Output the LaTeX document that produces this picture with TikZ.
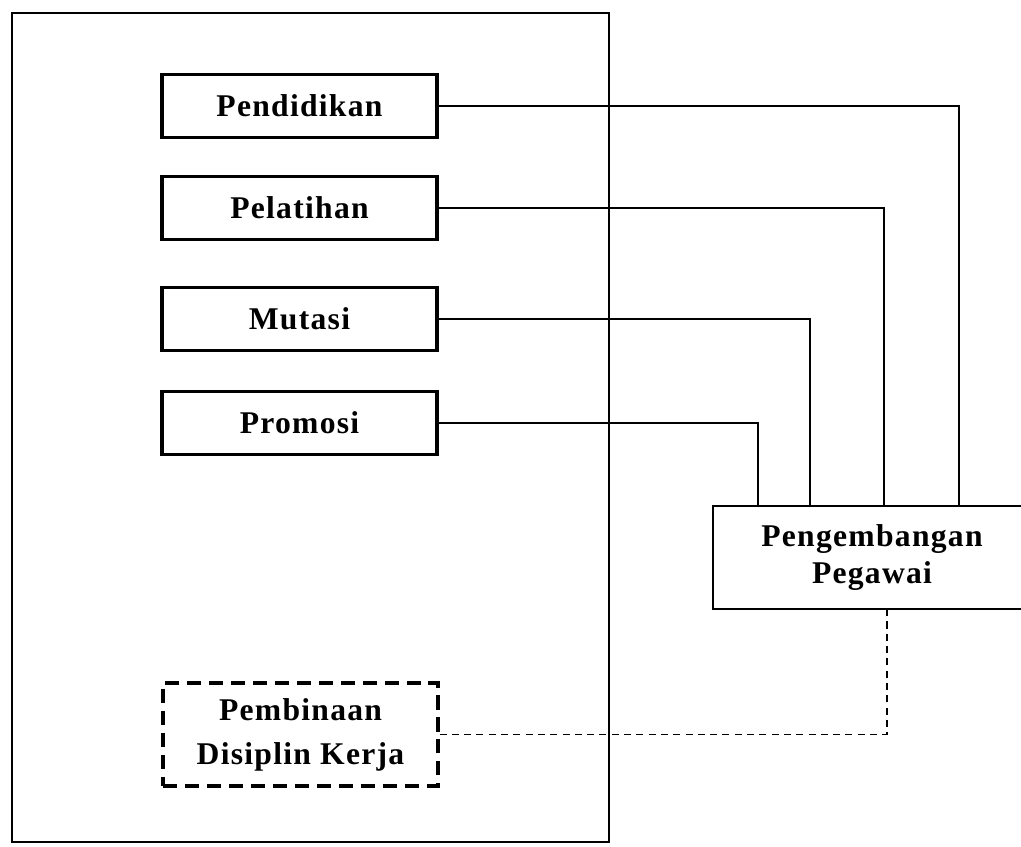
\documentclass[tikz,border=0pt]{standalone}
\usepackage{fontspec}
\setmainfont[LetterSpace=4]{Liberation Serif}
\begin{document}
\begin{tikzpicture}
  [
    x=0.02cm, y=-0.02cm,
    every node/.style={
      font=\bfseries\fontsize{18}{21.5}\selectfont
    },
    box/.style={
      draw,
      line width=1.8pt,
      minimum width=5.5cm,
      minimum height=1.26cm,
      inner sep=0pt
    },
    dbox/.style={
      box,
      dash pattern=on 8pt off 4.5pt,
      minimum height=2.06cm,
      align=center,
      font=\bfseries\fontsize{18}{25}\selectfont
    },
    target/.style={
      draw,
      line width=1.6pt,
      minimum width=6.36cm,
      minimum height=2.06cm,
      align=center,
      inner sep=0pt
    },
    link/.style={
      line width=1pt
    },
    dlink/.style={
      line width=1pt,
      dash pattern=on 4pt off 3pt
    }
  ]

  \clip (0,0) rectangle (1021,847);
  \draw [line width=1.4pt] (12,13) rectangle (609,842);

  \node [box] (pend) at (299.5,106) {Pendidikan};
  \node [box] (pela) at (299.5,208) {Pelatihan};
  \node [box] (muta) at (299.5,319) {Mutasi};
  \node [box] (prom) at (299.5,423) {Promosi};
  \node [dbox] (bina) at (300.5,734.5) {Pembinaan\\Disiplin Kerja};

  \node [target] (peng) at (872,557.5) {Pengembangan\\Pegawai};

  \foreach \n/\x in {pend/959,pela/884,muta/810,prom/758} {
      \coordinate (c\n) at (\x,0);
      \draw [link] (\n.east) -| (c\n |- peng.north);
  }

  \coordinate (cdis) at (887,0);
  \draw [dlink] (bina.east) -| (cdis |- peng.south);

\end{tikzpicture}
\end{document}
